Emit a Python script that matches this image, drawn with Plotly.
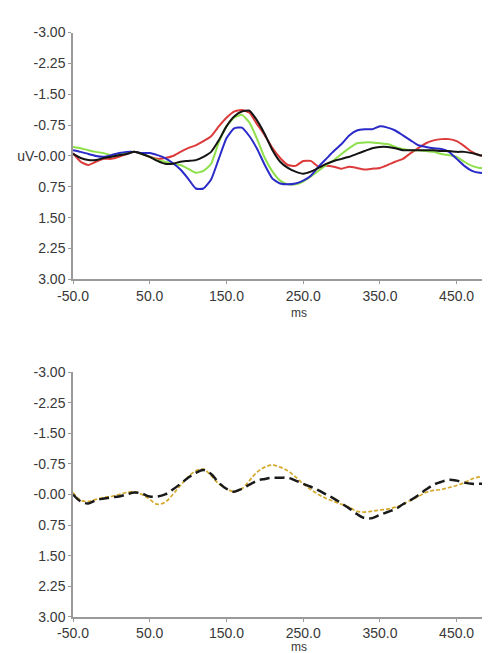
import plotly.graph_objects as go

ms = [-50, -40, -30, -20, -10, 0, 10, 20, 30, 40, 50, 60, 70, 80, 90, 100, 110, 120, 130, 140,
      150, 160, 170, 180, 190, 200, 210, 220, 230, 240, 250, 260, 270, 280, 290, 300, 310, 320,
      330, 340, 350, 360, 370, 380, 390, 400, 410, 420, 430, 440, 450, 460, 470, 480, 490, 500]

blue = [-0.14, -0.10, -0.05, 0.00, 0.02, -0.02, -0.07, -0.10, -0.10, -0.07, -0.07, -0.02, 0.05,
        0.17, 0.33, 0.55, 0.79, 0.79, 0.57, 0.07, -0.43, -0.67, -0.69, -0.48, -0.17, 0.22, 0.55,
        0.67, 0.69, 0.67, 0.60, 0.48, 0.26, 0.07, -0.12, -0.29, -0.50, -0.62, -0.65, -0.65, -0.72,
        -0.69, -0.62, -0.50, -0.38, -0.26, -0.22, -0.19, -0.17, -0.10, 0.07, 0.24, 0.36, 0.41,
        0.41, 0.38]

red = [-0.07, 0.14, 0.22, 0.14, 0.07, 0.07, 0.02, -0.05, -0.10, -0.05, 0.02, 0.07, 0.05, 0.00,
       -0.10, -0.19, -0.26, -0.36, -0.48, -0.72, -0.93, -1.08, -1.12, -1.05, -0.77, -0.50, -0.19,
       0.05, 0.22, 0.24, 0.12, 0.12, 0.26, 0.24, 0.26, 0.31, 0.26, 0.29, 0.33, 0.31, 0.29, 0.22,
       0.14, 0.07, -0.07, -0.19, -0.31, -0.38, -0.41, -0.41, -0.36, -0.24, -0.10, -0.02, 0.00,
       0.02]

green = [-0.22, -0.19, -0.14, -0.10, -0.07, -0.02, -0.05, -0.07, -0.10, -0.05, 0.02, 0.10, 0.14,
         0.19, 0.22, 0.31, 0.41, 0.36, 0.19, -0.33, -0.72, -0.93, -1.00, -0.81, -0.41, 0.05, 0.38,
         0.60, 0.69, 0.69, 0.62, 0.50, 0.36, 0.22, 0.10, -0.05, -0.19, -0.31, -0.33, -0.33, -0.31,
         -0.29, -0.22, -0.17, -0.14, -0.14, -0.12, -0.10, -0.05, -0.02, 0.02, 0.14, 0.24, 0.29,
         0.29, 0.29]

black = [-0.05, 0.05, 0.10, 0.10, 0.05, 0.02, -0.02, -0.05, -0.10, -0.05, 0.02, 0.12, 0.19, 0.19,
         0.14, 0.12, 0.10, 0.02, -0.10, -0.38, -0.72, -0.96, -1.08, -1.10, -0.86, -0.53, -0.14,
         0.14, 0.29, 0.38, 0.43, 0.38, 0.29, 0.19, 0.12, 0.07, 0.02, -0.05, -0.12, -0.19, -0.22,
         -0.22, -0.19, -0.14, -0.14, -0.14, -0.14, -0.14, -0.12, -0.12, -0.10, -0.10, -0.07, -0.02,
         0.00, 0.00]

diff_black = [0.00, 0.17, 0.22, 0.14, 0.10, 0.07, 0.05, 0.00, -0.05, -0.02, 0.05, 0.05, 0.00,
              -0.12, -0.26, -0.41, -0.53, -0.60, -0.50, -0.29, -0.14, -0.07, -0.14, -0.24, -0.34,
              -0.38, -0.41, -0.41, -0.41, -0.34, -0.26, -0.19, -0.10, 0.00, 0.10, 0.22, 0.34, 0.48,
              0.58, 0.58, 0.50, 0.43, 0.36, 0.24, 0.14, 0.02, -0.12, -0.24, -0.31, -0.36, -0.34,
              -0.29, -0.26, -0.26, -0.26, -0.26]

diff_yellow = [-0.05, 0.14, 0.17, 0.12, 0.07, 0.05, 0.00, -0.05, -0.07, 0.00, 0.12, 0.24, 0.19,
               0.00, -0.22, -0.43, -0.58, -0.62, -0.46, -0.26, -0.14, -0.07, -0.14, -0.34, -0.55,
               -0.67, -0.72, -0.67, -0.58, -0.43, -0.26, -0.12, 0.00, 0.10, 0.17, 0.24, 0.31, 0.41,
               0.43, 0.41, 0.38, 0.36, 0.31, 0.24, 0.14, 0.05, -0.05, -0.10, -0.12, -0.17, -0.22,
               -0.29, -0.38, -0.43, -0.43, -0.41]

x_ticks = [-50, 50, 150, 250, 350, 450]
x_ticktext = ["-50.0", "50.0", "150.0", "250.0", "350.0", "450.0"]
y_ticks = [-3.0, -2.25, -1.5, -0.75, 0.0, 0.75, 1.5, 2.25, 3.0]
y_ticktext_top = ["-3.00", "-2.25", "-1.50", "-0.75", "uV-0.00", "0.75", "1.50", "2.25", "3.00"]
y_ticktext_bottom = ["-3.00", "-2.25", "-1.50", "-0.75", "-0.00", "0.75", "1.50", "2.25", "3.00"]

fig = go.Figure()
for vals, col in [(red, "#dd3b3b"), (green, "#8ee04a"), (blue, "#2a2ac8"), (black, "#141414")]:
    fig.add_trace(go.Scatter(x=ms, y=vals, mode="lines", xaxis="x", yaxis="y",
                             line=dict(color=col, width=2, shape="spline", smoothing=0.5),
                             showlegend=False))

fig.add_trace(go.Scatter(x=ms, y=diff_yellow, mode="lines", xaxis="x2", yaxis="y2",
                         line=dict(color="#d4a92c", width=1.7, dash="4px,2px", shape="spline"),
                         showlegend=False))
fig.add_trace(go.Scatter(x=ms, y=diff_black, mode="lines", xaxis="x2", yaxis="y2",
                         line=dict(color="#1a1a1a", width=2.5, dash="10px,5px", shape="spline"),
                         showlegend=False))

font = dict(family="Liberation Sans, Arial, sans-serif", size=14, color="#383838")
axis_common = dict(showgrid=False, zeroline=False, showline=True, linecolor="#9a9a9a",
                   linewidth=1.5, ticks="outside", ticklen=3, tickcolor="#9a9a9a",
                   tickfont=font)

H = 653.0
fig.update_layout(
    width=490, height=653,
    margin=dict(l=65, r=3, t=0, b=0),
    paper_bgcolor="white", plot_bgcolor="white",
    xaxis=dict(domain=[0, 1], anchor="y", range=[-50, 500], tickvals=x_ticks,
               ticktext=x_ticktext, **axis_common),
    yaxis=dict(domain=[1 - 270 / H, 1 - 17 / H], anchor="x", range=[3, -3],
               tickvals=y_ticks, ticktext=y_ticktext_top, **axis_common),
    xaxis2=dict(domain=[0, 1], anchor="y2", range=[-50, 500], tickvals=x_ticks,
                ticktext=x_ticktext, **axis_common),
    yaxis2=dict(domain=[1 - 616 / H, 1 - 365 / H], anchor="x2", range=[3, -3],
                tickvals=y_ticks, ticktext=y_ticktext_bottom, **axis_common),
    annotations=[
        dict(text="ms", xref="paper", yref="paper", x=0.535, y=1 - 304 / H,
             showarrow=False, font=dict(font, size=12), xanchor="center", yanchor="middle"),
        dict(text="ms", xref="paper", yref="paper", x=0.535, y=1 - 647 / H,
             showarrow=False, font=dict(font, size=12), xanchor="center", yanchor="middle"),
    ],
)

fig.write_html("out.html")
